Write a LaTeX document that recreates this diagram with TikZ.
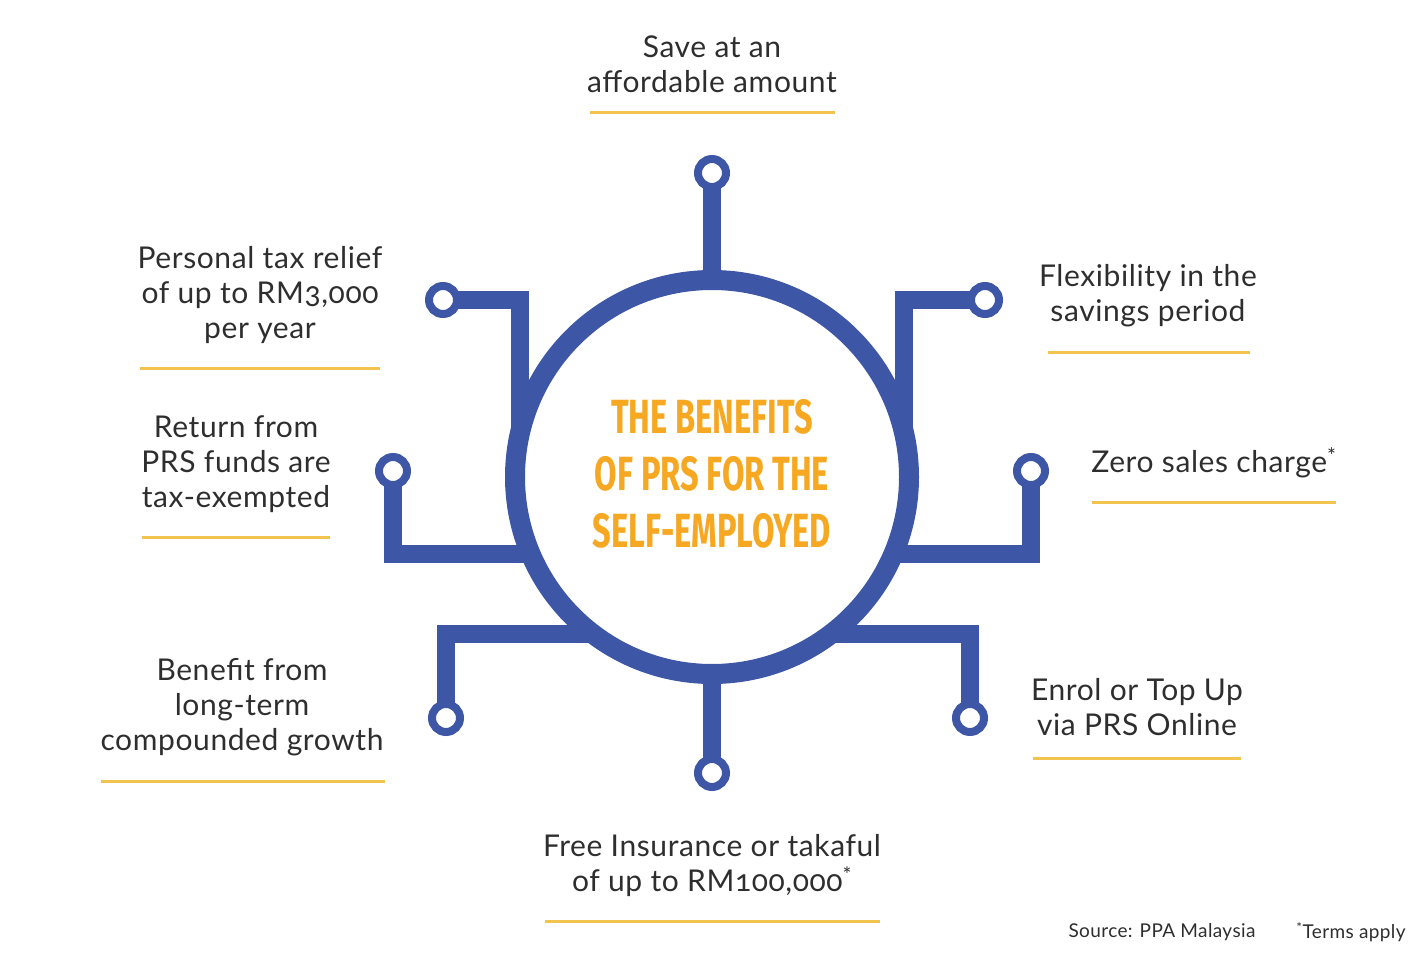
\documentclass[tikz,border=0pt]{standalone}
\usepackage{fontspec}
\setmainfont{Lato}[Numbers=OldStyle,LetterSpace=2]
\newfontfamily\titlefont{Fira Sans}[FakeStretch=0.68]
\usepackage{xcolor}
\usepackage{tikz}
\definecolor{prsblue}{HTML}{3D56A6}
\definecolor{prsorange}{HTML}{F7A823}
\definecolor{prsline}{HTML}{F2C34F}
\definecolor{prstext}{HTML}{2E2E2E}

\begin{document}
\begin{tikzpicture}[x=1pt,y=-1pt,
  trace/.style={draw=prsblue,line width=18pt},
  pin/.style={circle,draw=prsblue,fill=white,line width=8pt,minimum size=28pt,inner sep=0pt,outer sep=0pt},
  benefit/.style={text=prstext,align=center,font=\fontsize{30}{35}\selectfont},
  uline/.style={draw=prsline,line width=3pt},
  note/.style={text=prstext,font=\fontsize{19}{22}\selectfont}]
\useasboundingbox (0,0) rectangle (1425,955);
\node[circle,draw=prsblue,line width=20pt,minimum size=394pt,inner sep=0pt,outer sep=0pt] (hub) at (712,477) {};
\node[text=prsorange,align=center,font=\titlefont\bfseries\fontsize{48}{57}\selectfont] (title) at (712,474) {THE BENEFITS\\OF PRS FOR THE\\SELF-EMPLOYED};
\node[pin] (pinT) at (712,173) {};
\node[pin] (pinB) at (712,773) {};
\node[pin] (pinTL) at (443,300) {};
\node[pin] (pinTR) at (985,300) {};
\node[pin] (pinML) at (393,471) {};
\node[pin] (pinMR) at (1031,471) {};
\node[pin] (pinBL) at (446,718) {};
\node[pin] (pinBR) at (970,718) {};
\draw[trace] (pinT) -- (hub.north);
\draw[trace] (pinB) -- (hub.south);
\draw[trace] (pinTL) -| (hub.167);
\draw[trace] (pinTR) -| (hub.13);
\draw[trace] (pinML) |- (hub.203);
\draw[trace] (pinMR) |- (hub.-23);
\draw[trace] (pinBL) |- (hub.233);
\draw[trace] (pinBR) |- (hub.-53);
\node[benefit] (save) at (712,64) {Save at an\\affordable amount};
\node[benefit] (tax) at (260,295) {Personal tax relief\\of up to RM3,000\\per year};
\node[benefit] (flex) at (1148,296) {Flexibility in the\\savings period};
\node[benefit] (ret) at (236,464) {Return from\\PRS funds are\\tax-exempted};
\node[benefit] (zero) at (1214,463) {Zero sales charge\textsuperscript{*}};
\node[benefit] (growth) at (242,707) {Benefit from\\long-term\\compounded growth};
\node[benefit] (enrol) at (1137,707) {Enrol or Top Up\\via PRS Online};
\node[benefit] (free) at (712,866) {Free Insurance or takaful\\of up to RM100,000\textsuperscript{*}};
\draw[uline] (590,113) -- (835,113);
\draw[uline] (140,368) -- (380,368);
\draw[uline] (1048,352) -- (1250,352);
\draw[uline] (142,537) -- (330,537);
\draw[uline] (1092,502) -- (1336,502);
\draw[uline] (101,781) -- (385,781);
\draw[uline] (1033,758) -- (1241,758);
\draw[uline] (545,921) -- (880,921);
\node[note] (source) at (1162,932) {Source: PPA Malaysia};
\node[note] (terms) at (1351,932) {\textsuperscript{*}Terms apply};
\end{tikzpicture}
\end{document}
